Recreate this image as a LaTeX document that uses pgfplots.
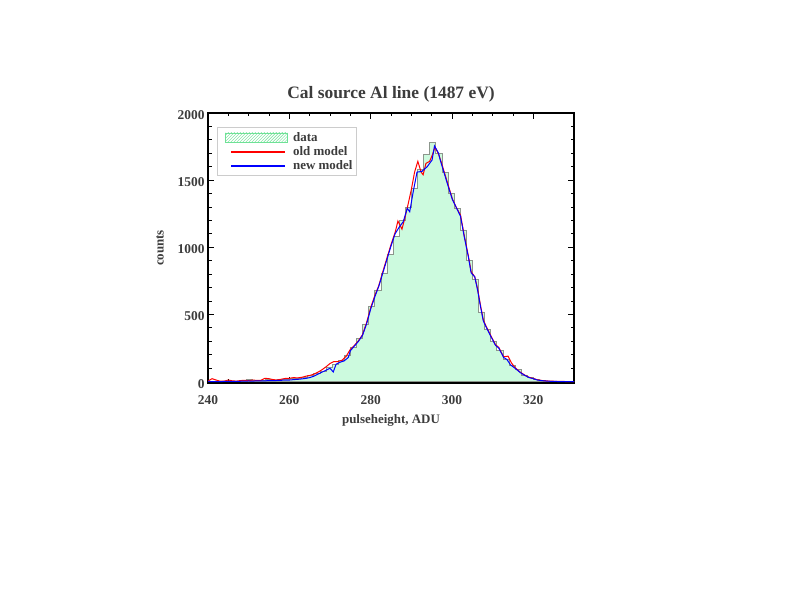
\documentclass[border=0pt]{standalone}
\usepackage{pgfplots}
\pgfplotsset{compat=1.18}
\usepackage{fontspec}
\setmainfont{Liberation Serif}
\usetikzlibrary{patterns}
\definecolor{mint}{RGB}{204,250,222}
\definecolor{histgray}{RGB}{140,150,140}
\definecolor{hatch}{RGB}{110,225,150}
\definecolor{txt}{RGB}{60,60,60}
\begin{document}
\begin{tikzpicture}
\path[use as bounding box] (0,0) rectangle (792bp,612bp);
\begin{axis}[
  at={(208bp,229bp)}, anchor=south west,
  width=366bp, height=270bp, scale only axis,
  xmin=240, xmax=330, ymin=-10, ymax=2000,
  xtick={240,260,...,320}, minor x tick num=3,
  ytick={0,500,...,2000}, minor y tick num=4,
  tick align=inside, major tick length=6bp, minor tick length=3.5bp,
  axis line style={line width=1.3pt},
  every tick/.style={black, line width=1pt},
  /pgf/number format/assume math mode=true,
  /pgf/number format/1000 sep={},
  ticklabel style={font=\fontsize{13.5}{15}\selectfont\bfseries, text=txt},
  xticklabel style={yshift=-9bp},
  yticklabel style={yshift=-2bp},
  title={Cal source Al line (1487 eV)},
  title style={at={(axis description cs:0.5,1.033)}, anchor=base, yshift=0pt, font=\fontsize{17.5}{19}\selectfont\bfseries, text=txt},
  xlabel={pulseheight, ADU},
  ylabel={counts},
  xlabel style={at={(axis description cs:0.5,-0.137)}, anchor=center, font=\fontsize{13}{15}\selectfont\bfseries, text=txt},
  ylabel style={at={(axis description cs:-0.131,0.5)}, anchor=center, font=\fontsize{13}{15}\selectfont\bfseries, text=txt},
  legend style={at={(rel axis cs:0.0245,0.948)}, anchor=north west, draw=gray!40, fill=white,
    font=\fontsize{13}{15}\selectfont\bfseries, row sep=-0.5pt, inner xsep=2pt, inner ysep=3pt},
  legend cell align=left,
]
% data histogram, left bin edges
\addplot[const plot, fill=mint, draw=histgray, line width=0.6pt,
  legend image code/.code={\path (0bp,0bp) (71bp,0bp); \draw[draw=hatch, pattern=north east lines, pattern color=hatch] (6bp,-4.5bp) rectangle (68bp,4.5bp);}]
coordinates {
(239,3)(240.5,4)(242,2)(243.5,5)(245,3)(246.5,6)(248,8)(249.5,14)(251,12)(252.5,9)
(254,16)(255.5,12)(257,15)(258.5,20)(260,24)(261.5,26)(263,32)(264.5,45)(266,60)(267.5,80)
(269,110)(270.5,130)(272,160)(273.5,195)(275,255)(276.5,320)(278,430)(279.5,560)(281,680)(282.5,810)
(284,950)(285.5,1080)(287,1200)(288.5,1300)(290,1440)(291.5,1580)(293,1690)(294.5,1780)(296,1700)(297.5,1560)
(299,1400)(300.5,1290)(302,1130)(303.5,900)(305,760)(306.5,520)(308,390)(309.5,300)(311,230)(312.5,170)
(314,120)(315.5,90)(317,50)(318.5,30)(320,16)(321.5,9)(323,5)(324.5,3)(326,2)(327.5,1)
(329,1)(330.5,1)
} \closedcycle;
\addlegendentry{\textcolor{txt}{data}}
% old model
\addplot[red, line width=1pt, legend image code/.code={\path (0bp,0bp) (71bp,0bp); \fill[fill=red, draw=red, line width=0.2pt] (11bp,-0.3bp) rectangle (64bp,0.3bp);}]
coordinates {
(240,5)(241,22)(242,12)(243,3)(244,4)(245,12)(246,6)(247,4)(248,8)(249,10)(250,7)(251,12)(252,9)(253,10)
(254,25)(255,22)(256,15)(257,13)(258,18)(259,24)(260,25)(261,30)(262,28)(263,32)(264,40)(265,46)(266,55)
(267,70)(268,88)(269,110)(270,135)(271,150)(272,150)(273,160)(274,190)(275,240)(276,270)(277,305)(278,350)
(279,440)(280,550)(281,640)(282,715)(283,820)(284,920)(285,1020)(286,1110)(286.7,1195)(287.7,1135)(288.5,1230)
(289.2,1320)(290,1430)(290.8,1560)(291.6,1640)(292.4,1560)(292.9,1540)(293.6,1625)(294.5,1640)(295.2,1690)
(295.8,1745)(296.6,1700)(297.3,1640)(298.4,1530)(299.2,1450)(300.1,1360)(301,1300)(302.1,1240)(303,1090)
(304,940)(304.7,820)(305.6,780)(306.3,690)(307,570)(307.7,460)(308.5,405)(309.5,345)(310.7,275)(311.5,255)
(312.7,185)(313.8,190)(314.6,140)(315.5,105)(316.8,70)(318,47)(319,32)(320,24)(321,14)(322,9)(323,6)
(324,4)(325,3)(326,2)(328,1)(330,1)
};
\addlegendentry{\textcolor{txt}{old model}}
% new model
\addplot[blue, line width=1pt, legend image code/.code={\path (0bp,0bp) (71bp,0bp); \fill[fill=blue, draw=blue, line width=0.2pt] (11bp,-0.3bp) rectangle (64bp,0.3bp);}]
coordinates {
(240,2)(241,0)(242,1)(243,0)(244,2)(245,1)(246,3)(247,2)(248,3)(249,4)(250,5)(251,4)(252,6)(253,5)
(254,6)(255,8)(256,7)(257,9)(258,10)(259,12)(260,12)(261,15)(262,17)(263,20)(264,24)(265,30)(266,40)
(267,55)(268,70)(269,85)(270,100)(270.8,72)(271.5,130)(272.5,145)(273.5,155)(274.5,180)(275,230)(276,265)
(277,300)(278,345)(279,430)(280,540)(281,630)(282,710)(283,810)(284,910)(285,1010)(286,1100)(287,1150)
(288,1190)(289,1290)(289.6,1265)(290.5,1420)(291.4,1560)(292.6,1565)(293.9,1600)(295.1,1650)(295.7,1755)
(296.7,1700)(297.1,1650)(298.4,1520)(299.2,1440)(300.1,1356)(301,1300)(302.1,1230)(303,1080)(304,933)
(304.7,810)(305.6,780)(306.3,680)(307,560)(307.7,452)(308.5,400)(309.5,340)(310.7,270)(311.5,250)
(312.7,180)(313.5,165)(314.4,125)(315.5,100)(316.8,67)(318,45)(319,30)(320,22)(321,12)(322,8)(323,5)
(324,3)(325,2)(326,1)(328,1)(330,0)
};
\addlegendentry{\textcolor{txt}{new model}}
\end{axis}
\end{tikzpicture}
\end{document}
